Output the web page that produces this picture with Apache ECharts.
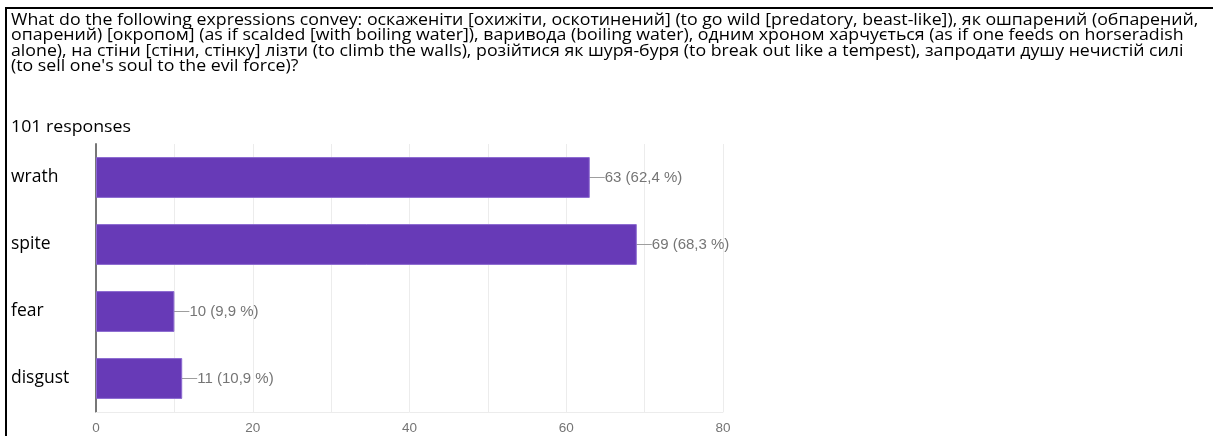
<!DOCTYPE html>
<html>
<head>
<meta charset="utf-8">
<script src="https://cdn.jsdelivr.net/npm/echarts@6/dist/echarts.min.js"></script>
<style>
html,body{margin:0;padding:0;background:#fff;}
#chart{width:1213px;height:436px;}
</style>
</head>
<body>
<div id="chart"></div>
<script>
const questionText = "What do the following expressions convey: оскаженіти [охижіти, оскотинений] (to go wild [predatory, beast-like]), як ошпарений (обпарений,\nопарений) [окропом] (as if scalded [with boiling water]), варивода (boiling water), одним хроном харчується (as if one feeds on horseradish\nalone), на стіни [стіни, стінку] лізти (to climb the walls), розійтися як шуря-буря (to break out like a tempest), запродати душу нечистій силі\n(to sell one's soul to the evil force)?";
const responsesText = "101 responses";
const categories = ["wrath", "spite", "fear", "disgust"];
const counts = [63, 69, 10, 11];
const percents = ["62,4", "68,3", "9,9", "10,9"];
const xTicks = [0, 20, 40, 60, 80];

const chart = echarts.init(document.getElementById('chart'), null, {renderer: 'canvas'});
const textFont = '"Open Sans", "Noto Sans", sans-serif';
const numFont = 'Arial, "Liberation Sans", sans-serif';
chart.setOption({
  animation: false,
  backgroundColor: '#fff',
  graphic: [
    {type: 'line', shape: {x1: 6, y1: 8, x2: 1213, y2: 8}, style: {stroke: '#000', lineWidth: 2}},
    {type: 'line', shape: {x1: 6, y1: 7, x2: 6, y2: 436}, style: {stroke: '#000', lineWidth: 2}},
    {type: 'text', x: 11, y: 12, scaleX: 1.063,
     style: {text: questionText, fill: '#000', fontFamily: textFont, fontSize: 16.7,
             lineHeight: 15.6, verticalAlign: 'top', align: 'left'}},
    {type: 'text', x: 11, y: 119, scaleX: 1.063,
     style: {text: responsesText, fill: '#000', fontFamily: textFont, fontSize: 16.7,
             lineHeight: 15.6, verticalAlign: 'top', align: 'left'}}
  ],
  grid: {left: 96, right: 490, top: 144, bottom: 24, containLabel: false},
  xAxis: {
    type: 'value', min: 0, max: 80, interval: 10,
    axisLine: {show: true, lineStyle: {color: '#ececec', width: 1}},
    axisTick: {show: false},
    splitLine: {show: true, lineStyle: {color: '#ececec', width: 1}},
    axisLabel: {
      color: '#757575', fontFamily: numFont, fontSize: 13.5, margin: 9,
      formatter: function (v) { return xTicks.indexOf(v) >= 0 ? String(v) : ''; }
    }
  },
  yAxis: {
    type: 'category', data: categories, inverse: true,
    axisLine: {show: true, lineStyle: {color: '#777', width: 2}},
    axisTick: {show: false},
    splitLine: {show: false},
    axisLabel: {color: '#000', fontFamily: textFont, fontSize: 17.5, align: 'left', margin: 85,
                padding: [0, 0, 10, 0]}
  },
  series: [{
    type: 'bar',
    data: counts,
    barWidth: '61%',
    itemStyle: {color: '#673ab7', borderColor: '#8c6ad0', borderWidth: 1},
    label: {
      show: true, position: 'right', distance: 0,
      color: '#757575', fontFamily: numFont, fontSize: 15,
      formatter: function (p) { return p.value + ' (' + percents[p.dataIndex] + ' %)'; }
    },
    labelLayout: {dx: 15},
    labelLine: {show: true, lineStyle: {color: '#9e9e9e', width: 1}}
  }]
});
</script>
</body>
</html>
